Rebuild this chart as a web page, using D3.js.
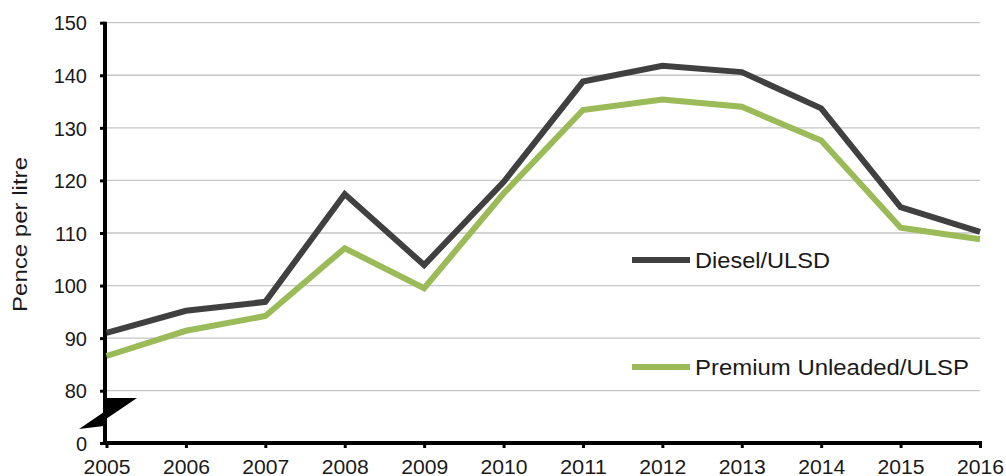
<!DOCTYPE html>
<html><head><meta charset="utf-8">
<script src="https://cdn.jsdelivr.net/npm/d3@7"></script>
<style>body{margin:0;background:#fff}svg{display:block}text{font-family:"Liberation Sans",Arial,sans-serif;fill:#1a1a1a}</style>
</head><body><svg id="c" width="1006" height="476"></svg>
<script>
const years = [2005,2006,2007,2008,2009,2010,2011,2012,2013,2014,2015,2016];
const diesel = [91.0,95.2,96.9,117.4,103.9,119.7,138.8,141.8,140.6,133.7,114.9,110.2];
const premium = [86.6,91.4,94.2,107.1,99.5,117.5,133.4,135.4,134.0,127.6,111.0,108.8];
const yTicks = [0,80,90,100,110,120,130,140,150];
const seriesNames = ["Diesel/ULSD","Premium Unleaded/ULSP"];
const colors = ["#404040","#9bbb59"];

const svg = d3.select("#c");
const x = d3.scaleLinear().domain([2005,2016]).range([106.5,980]);
const y = d3.scaleLinear().domain([0,80,150]).range([443,390.7,22.7]);

// gridlines
svg.append("g").selectAll("line").data(yTicks.filter(d=>d>0)).join("line")
  .attr("x1",105).attr("x2",980).attr("y1",d=>y(d)).attr("y2",d=>y(d))
  .attr("stroke","#c6c6c6").attr("stroke-width",1.3);

// y axis
const ya = svg.append("g").attr("transform","translate(105,0)")
  .call(d3.axisLeft(y).tickValues(yTicks).tickSize(5).tickPadding(13));
ya.select(".domain").attr("stroke","#000").attr("stroke-width",4).attr("d",`M0,${y(150)-1}V${y(0)}`);
ya.selectAll(".tick line").attr("stroke","#000").attr("stroke-width",3);
ya.selectAll("text").style("font-size","20px").attr("fill","#1a1a1a").attr("dy","0.36em");

// x axis
const xa = svg.append("g").attr("transform",`translate(0,${y(0)})`)
  .call(d3.axisBottom(x).tickValues(years).tickFormat(d3.format("d")).tickSize(5).tickPadding(0));
xa.select(".domain").attr("stroke","#000").attr("stroke-width",4).attr("d",`M103,0H982`);
xa.selectAll(".tick line").attr("stroke","#000").attr("stroke-width",3);
xa.selectAll("text").style("font-size","20px").attr("fill","#1a1a1a")
  .attr("dy",null).attr("y",31).attr("textLength",47).attr("lengthAdjust","spacingAndGlyphs");

// break symbol
const brk = svg.append("g").attr("fill","#000");
brk.append("path").attr("d","M103,398 L137,398 L106,419 L103,419 Z");
brk.append("path").attr("d","M104,412 L79,429 L104,426 Z");

// y title
svg.append("text").attr("transform","translate(27,234.5) rotate(-90)")
  .attr("text-anchor","middle").style("font-size","21px")
  .attr("textLength",155).attr("lengthAdjust","spacingAndGlyphs").text("Pence per litre");

// lines
const line = d3.line().x((d,i)=>x(years[i])).y(d=>y(d));
[diesel,premium].forEach((s,k)=>{
  svg.append("path").datum(s).attr("d",line).attr("fill","none")
    .attr("stroke",colors[k]).attr("stroke-width",6).attr("stroke-linejoin","miter");
});

// legend
const legY = [260,367];
const legW = [135,274];
seriesNames.forEach((n,k)=>{
  svg.append("line").attr("x1",632).attr("x2",690).attr("y1",legY[k]).attr("y2",legY[k])
    .attr("stroke",colors[k]).attr("stroke-width",6);
  svg.append("text").attr("x",695).attr("y",legY[k]+8).style("font-size","22px")
    .attr("textLength",legW[k]).attr("lengthAdjust","spacingAndGlyphs").text(n);
});
</script></body></html>
